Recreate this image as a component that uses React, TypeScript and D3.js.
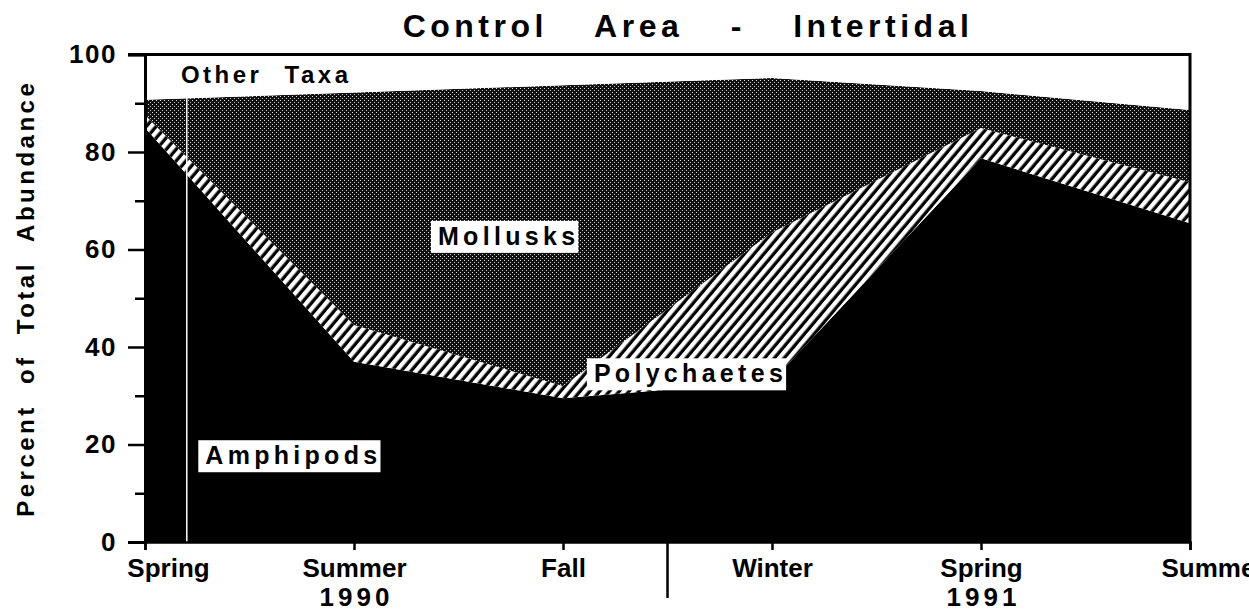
import * as d3 from 'd3';
import { useEffect, useRef } from 'react';

// seasons sampled (index = position on the x axis)
const seasons = ['Spring', 'Summer', 'Fall', 'Winter', 'Spring', 'Summer'];
const years = ['', '1990', '', '', '1991', ''];

// percent of total abundance
const amphipods = [85, 37, 29.5, 33, 78.7, 65.4];
const polychaetes = [2.6, 7.5, 2.5, 30.5, 6.2, 8.4];
const mollusks = [3.1, 47.7, 61.7, 31.7, 7.6, 14.8];
const otherTaxa = [9.3, 7.8, 6.3, 4.8, 7.5, 11.4];

const yTicks = [0, 20, 40, 60, 80, 100];
const yMinorTicks = [10, 30, 50, 70, 90];

const taxa = ['amphipods', 'polychaetes', 'mollusks', 'otherTaxa'];
const taxonFill: Record<string, string> = {
    amphipods: '#000',
    polychaetes: 'url(#hatch)',
    mollusks: 'url(#stipple)',
    otherTaxa: '#fff',
};

// label anchors in data units: [x index, percent]
const areaLabels = [
    { text: 'Mollusks', at: [1.74, 62.8], boxed: true },
    { text: 'Polychaetes', at: [2.61, 34.6], boxed: true },
    { text: 'Amphipods', at: [0.71, 17.8], boxed: true },
    { text: 'Other Taxa', at: [0.58, 95.8], boxed: false },
];

const FONT = '"Liberation Sans", Arial, Helvetica, sans-serif';

export default function App() {
    const svgRef = useRef<SVGSVGElement>(null);
    const width = 1249;
    const height = 613;
    const margin = { top: 54.5, right: 59, bottom: 71, left: 145 };

    useEffect(() => {
        const svg = d3.select(svgRef.current);
        svg.selectAll('*').remove();

        const x = d3.scaleLinear().domain([0, seasons.length - 1]).range([margin.left, width - margin.right]);
        const y = d3.scaleLinear().domain([0, 100]).range([height - margin.bottom, margin.top]);

        const rows = seasons.map((_, i) => ({
            amphipods: amphipods[i],
            polychaetes: polychaetes[i],
            mollusks: mollusks[i],
            otherTaxa: otherTaxa[i],
        }));
        const series = d3.stack<any>().keys(taxa)(rows);

        const defs = svg.append('defs');
        const hatch = defs.append('pattern')
            .attr('id', 'hatch')
            .attr('patternUnits', 'userSpaceOnUse')
            .attr('width', 7.5)
            .attr('height', 7.5)
            .attr('patternTransform', 'rotate(40)');
        hatch.append('rect').attr('width', 7.5).attr('height', 7.5).attr('fill', '#000');
        hatch.append('rect').attr('width', 4.2).attr('height', 7.5).attr('fill', '#fff');

        const stipple = defs.append('pattern')
            .attr('id', 'stipple')
            .attr('patternUnits', 'userSpaceOnUse')
            .attr('width', 4)
            .attr('height', 4);
        stipple.append('rect').attr('width', 4).attr('height', 4).attr('fill', '#111');
        stipple.append('rect').attr('x', 0).attr('y', 0).attr('width', 1).attr('height', 1).attr('fill', '#dcdcdc');
        stipple.append('rect').attr('x', 2).attr('y', 2).attr('width', 1).attr('height', 1).attr('fill', '#c4c4c4');

        const area = d3.area<any>()
            .x((_, i) => x(i))
            .y0((d) => y(d[0]))
            .y1((d) => y(d[1]));

        svg.append('g')
            .selectAll('path')
            .data(series)
            .enter()
            .append('path')
            .attr('d', (s) => area(s as any) || '')
            .attr('fill', (s) => taxonFill[s.key]);

        // thin white streak in the scan, left of the Summer 1990 point
        svg.append('line')
            .attr('x1', x(0.2)).attr('x2', x(0.2))
            .attr('y1', y(100)).attr('y2', y(0))
            .attr('stroke', '#fff')
            .attr('stroke-width', 1.5);

        // area labels
        areaLabels.forEach((lab) => {
            const g = svg.append('g');
            const t = g.append('text')
                .attr('x', x(lab.at[0]))
                .attr('y', y(lab.at[1]))
                .attr('text-anchor', 'middle')
                .attr('dominant-baseline', 'central')
                .style('font-family', FONT)
                .style('font-weight', '700')
                .style('font-size', lab.boxed ? '25px' : '24px')
                .style('letter-spacing', lab.boxed ? '4.3px' : '3.5px')
                .style('word-spacing', '12px')
                .text(lab.text);
            if (lab.boxed) {
                const bb = (t.node() as SVGTextElement).getBBox();
                g.insert('rect', 'text')
                    .attr('x', bb.x - 7)
                    .attr('y', bb.y - 1)
                    .attr('width', bb.width + 6)
                    .attr('height', bb.height + 4)
                    .attr('fill', '#fff');
            }
        });

        // y axis
        const yAxis = svg.append('g')
            .attr('transform', `translate(${margin.left}, 0)`)
            .call(d3.axisLeft(y).tickValues(yTicks).tickSize(17).tickPadding(11).tickFormat((d) => String(d)));
        yAxis.select('.domain').attr('stroke-width', 3);
        yAxis.selectAll('.tick line').attr('stroke-width', 2.5);
        yAxis.selectAll('.tick text')
            .style('font-family', FONT)
            .style('font-weight', '700')
            .style('font-size', '26px')
            .style('letter-spacing', '1.5px');
        svg.append('g')
            .attr('transform', `translate(${margin.left}, 0)`)
            .call(d3.axisLeft(y).tickValues(yMinorTicks).tickSize(10).tickFormat(() => ''))
            .call((g) => g.select('.domain').remove())
            .selectAll('.tick line').attr('stroke-width', 2.5);

        // x axis
        const xAxis = svg.append('g')
            .attr('transform', `translate(0, ${y(0)})`)
            .call(d3.axisBottom(x).tickValues(d3.range(seasons.length)).tickSize(8).tickPadding(9).tickFormat((i) => seasons[+i]));
        xAxis.select('.domain').attr('stroke-width', 2.5);
        xAxis.selectAll('.tick line').attr('stroke-width', 2.5);
        xAxis.selectAll('.tick text')
            .style('font-family', FONT)
            .style('font-weight', '700')
            .style('font-size', '26px')
            .attr('dx', (i: any) => (+i === 0 || +i === seasons.length - 1 ? 23 : 0));
        xAxis.selectAll('.tick')
            .append('text')
            .attr('y', 64)
            .attr('fill', '#000')
            .style('font-family', FONT)
            .style('font-weight', '700')
            .style('font-size', '26px')
            .style('letter-spacing', '4px')
            .attr('dx', 2)
            .text((i: any) => years[+i]);

        // year separator below the axis
        svg.append('line')
            .attr('x1', x(2.5)).attr('x2', x(2.5))
            .attr('y1', y(0)).attr('y2', y(0) + 56)
            .attr('stroke', '#000')
            .attr('stroke-width', 2.5);

        // frame: top and right
        svg.append('path')
            .attr('d', `M${margin.left - 17},${y(100)}H${x(seasons.length - 1)}V${y(0)}`)
            .attr('fill', 'none')
            .attr('stroke', '#000')
            .attr('stroke-width', 3);

        svg.append('text')
            .attr('x', 688)
            .attr('y', 37)
            .attr('text-anchor', 'middle')
            .style('font-family', FONT)
            .style('font-weight', '700')
            .style('font-size', '32px')
            .style('letter-spacing', '4.5px')
            .style('word-spacing', '34px')
            .text('Control Area - Intertidal');

        svg.append('text')
            .attr('transform', 'rotate(-90)')
            .attr('x', -(y(50)))
            .attr('y', 34)
            .attr('text-anchor', 'middle')
            .style('font-family', FONT)
            .style('font-weight', '700')
            .style('font-size', '24px')
            .style('letter-spacing', '3.5px')
            .style('word-spacing', '10px')
            .text('Percent of Total Abundance');
    }, []);

    return (
        <svg ref={svgRef} width={width} height={height}
            style={{ position: 'absolute', left: 0, top: 0, background: '#fff' }}></svg>
    );
}
